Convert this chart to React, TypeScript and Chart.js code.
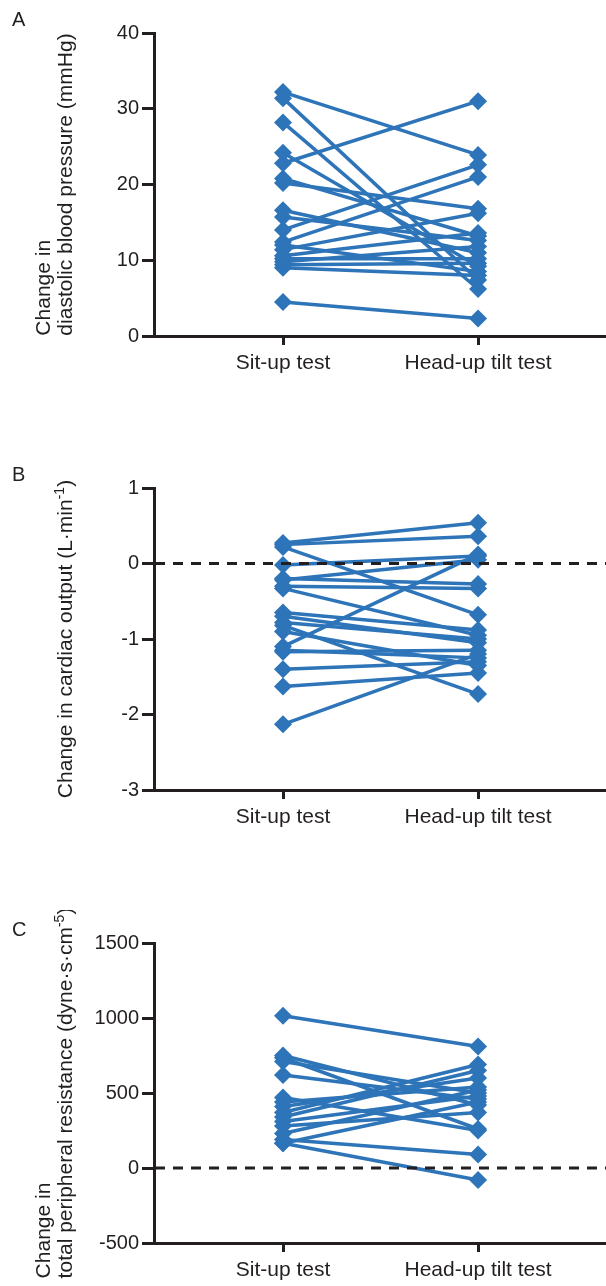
import React, { useEffect, useRef } from 'react';
import { Chart, registerables } from 'chart.js';

Chart.register(...registerables);

// ---------- data ----------
const categories = ['Sit-up test', 'Head-up tilt test'];

// Panel A: change in diastolic blood pressure (mmHg)
const sitUpDBP = [32.2, 31.4, 28.2, 24.2, 22.8, 20.8, 20.2, 16.6, 15.7, 14.0, 12.4, 12.0, 11.4, 10.6, 10.2, 9.8, 9.4, 9.0, 4.5];
const headUpDBP = [23.9, 7.4, 6.2, 9.2, 31.0, 13.2, 16.8, 11.0, 12.6, 22.6, 21.0, 8.5, 16.2, 13.6, 10.2, 11.8, 9.6, 8.0, 2.3];
const ticksDBP = [0, 10, 20, 30, 40];

// Panel B: change in cardiac output (L·min-1)
const sitUpCO = [0.27, 0.25, 0.22, -0.02, -0.2, -0.22, -0.3, -0.33, -0.65, -0.7, -0.78, -0.82, -0.9, -1.1, -1.15, -1.17, -1.4, -1.63, -2.13];
const headUpCO = [0.54, 0.36, -0.68, 0.1, -0.27, 0.05, -0.33, -0.95, -0.88, -1.05, -1.0, -1.73, -1.35, 0.12, -1.25, -1.15, -1.3, -1.45, -1.2];
const ticksCO = [-3, -2, -1, 0, 1];

// Panel C: change in total peripheral resistance (dyne·s·cm-5)
const sitUpTPR = [1015, 750, 735, 710, 620, 470, 440, 410, 370, 340, 310, 280, 230, 190, 165, 165];
const headUpTPR = [810, 420, 260, 500, 460, 250, 540, 600, 690, 650, 480, 370, 520, 90, -80, 440];
const ticksTPR = [-500, 0, 500, 1000, 1500];

// ---------- style ----------
const FONT = "'Liberation Sans', Arial, Helvetica, sans-serif";
const INK = '#231f20';
const BLUE = '#2e74b8';

type Seg = { t: string; sup?: boolean };

interface PanelProps {
  top: number;
  padTop: number;
  plotH: number;
  xAxisH: number;
  letter: string;
  titleLines: Seg[][];
  titleXs: number[];
  sit: number[];
  head: number[];
  yTicks: number[];
  zeroLine: boolean;
}

function Panel(p: PanelProps) {
  const ref = useRef<HTMLCanvasElement | null>(null);
  const W = 606;
  const H = p.padTop + p.plotH + p.xAxisH;

  useEffect(() => {
    if (!ref.current) return;
    const datasets = p.sit.map((s, i) => ({
      data: [
        { x: 0, y: s },
        { x: 1, y: p.head[i] },
      ],
      showLine: true,
      borderColor: BLUE,
      backgroundColor: BLUE,
      borderWidth: 3.5,
      pointStyle: 'rectRot' as const,
      pointRadius: 9,
      pointBorderWidth: 0,
      pointBackgroundColor: BLUE,
      clip: false as any,
    }));

    const decor = {
      id: 'decor',
      afterDatasetsDraw(chart: any) {
        const ctx = chart.ctx;
        const area = chart.chartArea;
        if (p.zeroLine) {
          const y = chart.scales.y.getPixelForValue(0);
          ctx.save();
          ctx.setLineDash([10, 8]);
          ctx.lineWidth = 3;
          ctx.strokeStyle = INK;
          ctx.beginPath();
          ctx.moveTo(area.left + 1, y);
          ctx.lineTo(area.right, y);
          ctx.stroke();
          ctx.restore();
        }
      },
      afterDraw(chart: any) {
        const ctx = chart.ctx;
        const area = chart.chartArea;
        ctx.save();
        ctx.fillStyle = INK;
        // panel letter
        ctx.font = `20px ${FONT}`;
        ctx.textBaseline = 'alphabetic';
        ctx.textAlign = 'left';
        ctx.fillText(p.letter, 12, 26);
        // y-axis title (rotated, lines left-aligned in a centred block)
        const big = `21px ${FONT}`;
        const small = `14px ${FONT}`;
        const widthOf = (line: Seg[]) =>
          line.reduce((w, s) => {
            ctx.font = s.sup ? small : big;
            return w + ctx.measureText(s.t).width;
          }, 0);
        const maxW = Math.max(...p.titleLines.map(widthOf));
        const cy = (area.top + area.bottom) / 2;
        p.titleLines.forEach((line, li) => {
          ctx.save();
          ctx.translate(p.titleXs[li], cy + maxW / 2);
          ctx.rotate(-Math.PI / 2);
          ctx.textBaseline = 'middle';
          ctx.textAlign = 'left';
          let x = 0;
          line.forEach((s) => {
            ctx.font = s.sup ? small : big;
            ctx.fillText(s.t, x, s.sup ? -6 : 0);
            x += ctx.measureText(s.t).width;
          });
          ctx.restore();
        });
        ctx.restore();
      },
    };

    const chart = new Chart(ref.current, {
      type: 'scatter',
      data: { datasets },
      options: {
        animation: false,
        responsive: false,
        devicePixelRatio: 1,
        layout: { autoPadding: false, padding: { top: p.padTop, left: 0, right: 0, bottom: 0 } },
        plugins: { legend: { display: false }, tooltip: { enabled: false } },
        scales: {
          x: {
            type: 'linear',
            bounds: 'data',
            min: -0.6615,
            max: 1.656,
            afterFit: (s: any) => {
              s.height = p.xAxisH;
              s.paddingLeft = 0;
              s.paddingRight = 0;
            },
            afterBuildTicks: (s: any) => {
              s.ticks = categories.map((_, i) => ({ value: i }));
            },
            border: { display: true, color: INK, width: 3 },
            grid: {
              display: true,
              drawOnChartArea: false,
              drawTicks: true,
              tickLength: 9,
              color: INK,
              lineWidth: 3,
            },
            ticks: {
              autoSkip: false,
              maxRotation: 0,
              padding: 6,
              color: INK,
              font: { family: FONT, size: 21 },
              callback: (v: any) => categories[Math.round(Number(v))] ?? '',
            },
          },
          y: {
            type: 'linear',
            bounds: 'data',
            min: p.yTicks[0],
            max: p.yTicks[p.yTicks.length - 1],
            afterFit: (s: any) => {
              s.width = 154;
              s.paddingTop = 0;
              s.paddingBottom = 0;
            },
            afterBuildTicks: (s: any) => {
              s.ticks = p.yTicks.map((v) => ({ value: v }));
            },
            border: { display: true, color: INK, width: 3 },
            grid: {
              display: true,
              drawOnChartArea: false,
              drawTicks: true,
              tickLength: 12,
              color: INK,
              lineWidth: 3,
            },
            ticks: {
              autoSkip: false,
              padding: 3,
              color: INK,
              font: { family: FONT, size: 20 },
              callback: (v: any) => String(v),
            },
          },
        },
      },
      plugins: [decor],
    } as any);
    return () => chart.destroy();
  }, []);

  return (
    <canvas
      ref={ref}
      width={W}
      height={H}
      style={{ position: 'absolute', left: 0, top: p.top, width: W, height: H }}
    />
  );
}

export default function App() {
  return (
    <div
      style={{
        position: 'absolute',
        left: 0,
        top: 0,
        width: 606,
        height: 1286,
        overflow: 'hidden',
        background: '#ffffff',
      }}
    >
      <Panel
        top={0}
        padTop={33}
        plotH={303}
        xAxisH={50}
        letter="A"
        titleLines={[[{ t: 'Change in' }], [{ t: 'diastolic blood pressure (mmHg)' }]]}
        titleXs={[44, 66]}
        sit={sitUpDBP}
        head={headUpDBP}
        yTicks={ticksDBP}
        zeroLine={false}
      />
      <Panel
        top={455}
        padTop={33}
        plotH={302}
        xAxisH={50}
        letter="B"
        titleLines={[[{ t: 'Change in cardiac output (L·min' }, { t: '-1', sup: true }, { t: ')' }]]}
        titleXs={[66]}
        sit={sitUpCO}
        head={headUpCO}
        yTicks={ticksCO}
        zeroLine={true}
      />
      <Panel
        top={910}
        padTop={33}
        plotH={300}
        xAxisH={43}
        letter="C"
        titleLines={[
          [{ t: 'Change in' }],
          [{ t: 'total peripheral resistance (dyne·s·cm' }, { t: '-5', sup: true }, { t: ')' }],
        ]}
        titleXs={[44, 66]}
        sit={sitUpTPR}
        head={headUpTPR}
        yTicks={ticksTPR}
        zeroLine={true}
      />
    </div>
  );
}
